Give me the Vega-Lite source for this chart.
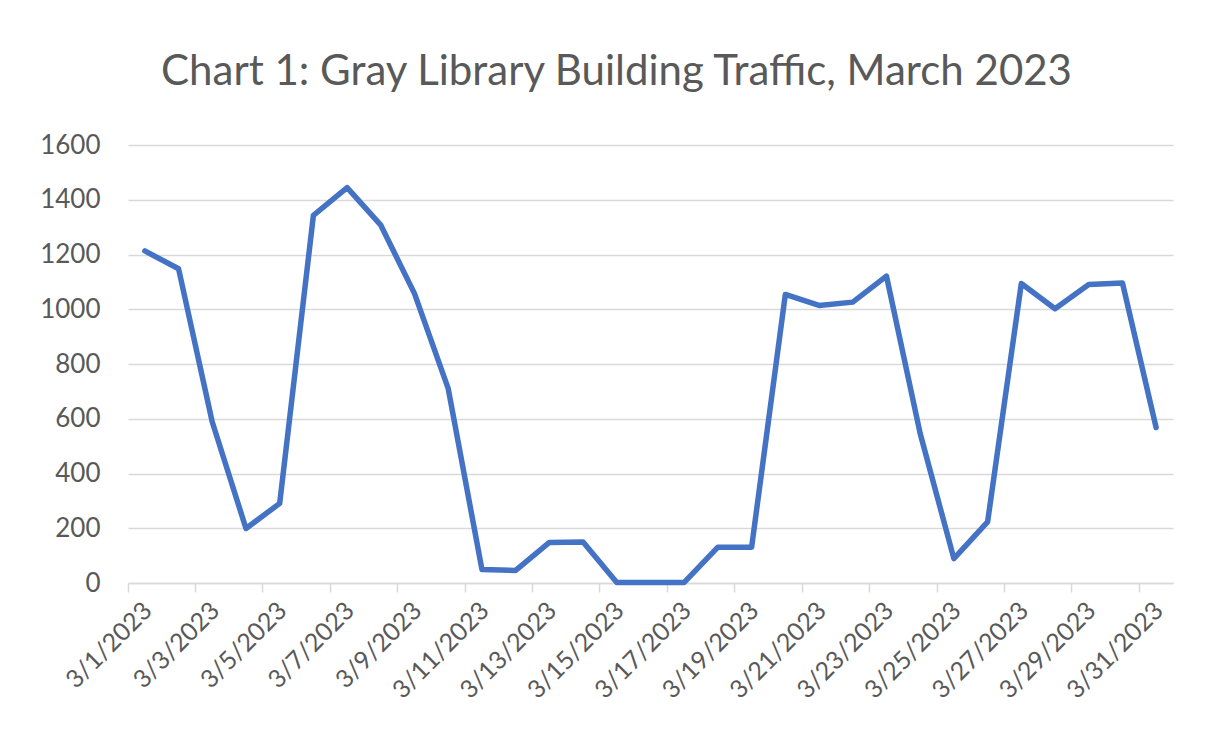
{
  "$schema": "https://vega.github.io/schema/vega-lite/v6.json",
  "width": 1045,
  "height": 438,
  "autosize": {"type": "none"},
  "padding": {"left": 128, "top": 145, "right": 42, "bottom": 163},
  "background": "white",
  "title": {
    "text": "Chart 1: Gray Library Building Traffic, March 2023",
    "fontSize": 42,
    "font": "Lato",
    "fontWeight": "normal",
    "color": "#595959",
    "anchor": "middle",
    "dx": -34,
    "offset": 38
  },
  "data": {
    "values": [
      {"date": "3/1/2023", "visits": 1213},
      {"date": "3/2/2023", "visits": 1148},
      {"date": "3/3/2023", "visits": 588},
      {"date": "3/4/2023", "visits": 199},
      {"date": "3/5/2023", "visits": 291},
      {"date": "3/6/2023", "visits": 1343},
      {"date": "3/7/2023", "visits": 1444},
      {"date": "3/8/2023", "visits": 1307},
      {"date": "3/9/2023", "visits": 1057},
      {"date": "3/10/2023", "visits": 710},
      {"date": "3/11/2023", "visits": 49},
      {"date": "3/12/2023", "visits": 46},
      {"date": "3/13/2023", "visits": 148},
      {"date": "3/14/2023", "visits": 150},
      {"date": "3/15/2023", "visits": 2},
      {"date": "3/16/2023", "visits": 2},
      {"date": "3/17/2023", "visits": 2},
      {"date": "3/18/2023", "visits": 131},
      {"date": "3/19/2023", "visits": 131},
      {"date": "3/20/2023", "visits": 1054},
      {"date": "3/21/2023", "visits": 1014},
      {"date": "3/22/2023", "visits": 1026},
      {"date": "3/23/2023", "visits": 1121},
      {"date": "3/24/2023", "visits": 546},
      {"date": "3/25/2023", "visits": 89},
      {"date": "3/26/2023", "visits": 223},
      {"date": "3/27/2023", "visits": 1094},
      {"date": "3/28/2023", "visits": 1002},
      {"date": "3/29/2023", "visits": 1090},
      {"date": "3/30/2023", "visits": 1096},
      {"date": "3/31/2023", "visits": 568}
    ]
  },
  "mark": {
    "type": "line",
    "color": "#4472C4",
    "strokeWidth": 5.5,
    "strokeCap": "round",
    "strokeJoin": "round"
  },
  "encoding": {
    "x": {
      "field": "date",
      "type": "ordinal",
      "sort": null,
      "bandPosition": 0.5,
      "scale": {"type": "band", "paddingInner": 0, "paddingOuter": 0},
      "axis": {
        "title": null,
        "values": ["3/1/2023", "3/3/2023", "3/5/2023", "3/7/2023", "3/9/2023", "3/11/2023", "3/13/2023", "3/15/2023", "3/17/2023", "3/19/2023", "3/21/2023", "3/23/2023", "3/25/2023", "3/27/2023", "3/29/2023", "3/31/2023"],
        "bandPosition": 0,
        "labelAngle": -45,
        "labelAlign": "right",
        "labelBaseline": "middle",
        "labelFont": "Lato",
        "labelFontSize": 25,
        "labelColor": "#595959",
        "labelPadding": 14,
        "labelOffset": 3,
        "tickColor": "#d9d9d9",
        "tickWidth": 1.5,
        "tickSize": 9,
        "domainColor": "#d9d9d9",
        "domainWidth": 1.5,
        "grid": false
      }
    },
    "y": {
      "field": "visits",
      "type": "quantitative",
      "scale": {"domain": [0, 1600]},
      "axis": {
        "title": null,
        "values": [0, 200, 400, 600, 800, 1000, 1200, 1400, 1600],
        "format": "d",
        "grid": true,
        "gridColor": "#d9d9d9",
        "gridWidth": 1.5,
        "domain": false,
        "ticks": false,
        "labelPadding": 28,
        "labelFont": "Lato",
        "labelFontSize": 26,
        "labelColor": "#595959"
      }
    }
  },
  "config": {"view": {"stroke": null}}
}
